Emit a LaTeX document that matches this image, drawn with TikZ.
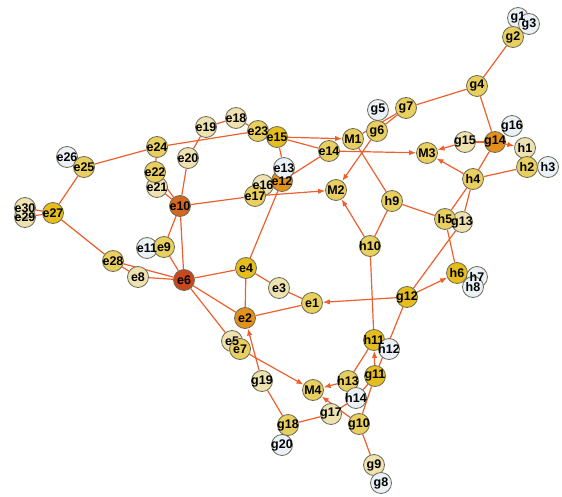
\documentclass[tikz,border=0pt]{standalone}
\usepackage{fontspec}
\setmainfont{Liberation Sans}
\usetikzlibrary{arrows.meta}
\pgfdeclarelayer{bg}
\pgfsetlayers{bg,main}
\definecolor{cb}{HTML}{EAF2F7}
\definecolor{ct}{HTML}{EDE2B0}
\definecolor{cy}{HTML}{E9CF5F}
\definecolor{cg}{HTML}{E5BE1E}
\definecolor{co}{HTML}{E3911B}
\definecolor{cc}{HTML}{D4671F}
\definecolor{cr}{HTML}{C8471F}
\definecolor{rim}{HTML}{6E6C56}
\definecolor{edgecol}{HTML}{EF5F2D}
\newcommand\vertlist{e1/312/303/cy, e2/245/318/co, e3/279/288/ct, e4/246/268/cg,
  e5/232/341/ct, e7/240/349/cy, e6/184/280/cr, e8/138/277/ct, e11/147/248/cb,
  e9/164/247/cy, e10/180/206/cc, e16/263/185/ct, e17/255/196/cy, e12/282/181/co,
  e13/284/168/cb, e14/329/151/cy, e23/258/131/cy, e15/277/137/cg, e18/236/118/ct,
  e19/206/127/ct, e20/188/158/ct, e21/157/187/ct, e22/155/172/cy, e24/157/147/cy,
  e26/67/157/cb, e25/84/167/cy, e27/53/213/cg, e28/113/261/cy, e29/25/217/ct,
  e30/25/208/ct, M1/353/139/cy, M2/336/190/cy, M3/427/153/cy, M4/313/390/cy,
  g1/518/18/cb, g3/529/24/cb, g2/513/37/cy, g4/477/86/cy, g5/378/110/cb,
  g6/377/131/cy, g7/406/108/cy, g9/374/465/ct, g8/381/483/cb, g10/359/424/cy,
  g11/375/376/cg, g12/407/297/cg, g13/462/222/ct, g16/512/126/cb, g14/495/142/co,
  g15/465/142/ct, g17/331/414/ct, g18/288/425/cy, g19/262/381/ct, g20/282/445/cb,
  h1/525/148/ct, h2/527/167/cy, h3/548/167/cb, h4/473/179/cy, h5/445/219/cy,
  h6/457/273/cg, h7/477/277/cb, h8/473/287/cb, h9/392/201/cy, h10/370/246/cy,
  h11/374/340/cg, h12/389/349/cb, h13/348/381/cy, h14/356/398/cb}

\begin{document}
\begin{tikzpicture}[x=1pt, y=-1pt,
    vert/.style={circle, draw=rim, line width=0.8pt, minimum size=21pt, inner sep=0pt},
    lbl/.style={font=\bfseries\fontsize{12.5}{13}\selectfont, inner sep=0pt},
    ed/.style={draw=edgecol, line width=1.2pt},
    ar/.style={ed, -{Latex[length=7pt,width=5.5pt]}}]
    \useasboundingbox (0,0) rectangle (562,497);
    \foreach \n/\x/\y/\c in \vertlist
        \node[vert, fill=\c] (\n) at (\x,\y) {};
    \begin{pgfonlayer}{bg}
    \foreach \a/\b in {e25/e24, e25/e27, e27/e30, e27/e29, e27/e28, e28/e6, e28/e8,
        e8/e6, e24/e23, e24/e22, e22/e10, e21/e10, e19/e18, e18/e23, e19/e20,
        e20/e10, e10/e17, e10/e9, e9/e6, e10/e6, e6/e4, e6/e2, e6/e5, e4/e12,
        e4/e3, e3/e1, e4/e2, e2/e1, e15/e14, e15/e13, e14/e12, M1/h9, M1/g7,
        g6/g7, g7/g4, g4/g2, g4/g14, g14/g15, g14/h4, h4/h2, h4/h5, h4/g13,
        h5/h9, h5/h6, h9/h10, h10/h11, g12/g13, g12/g11, g11/g10, h13/h11,
        h14/g11, g17/h14, g17/g18, g18/g19, g10/g9}
        \draw[ed] (\a) -- (\b);
    \foreach \a/\b in {e15/M1, e14/M3, g6/M2, e17/M2, h10/M2, h4/M3, g15/M3,
        g14/h1, g12/e1, g12/h6, g11/h11, h13/M4, e7/M4, g10/M4, g19/e2}
        \draw[ar] (\a) -- (\b);
    \end{pgfonlayer}
    \foreach \n/\x/\y/\c in \vertlist
        \node[lbl] (\n-t) at (\n) {\n};
\end{tikzpicture}
\end{document}
